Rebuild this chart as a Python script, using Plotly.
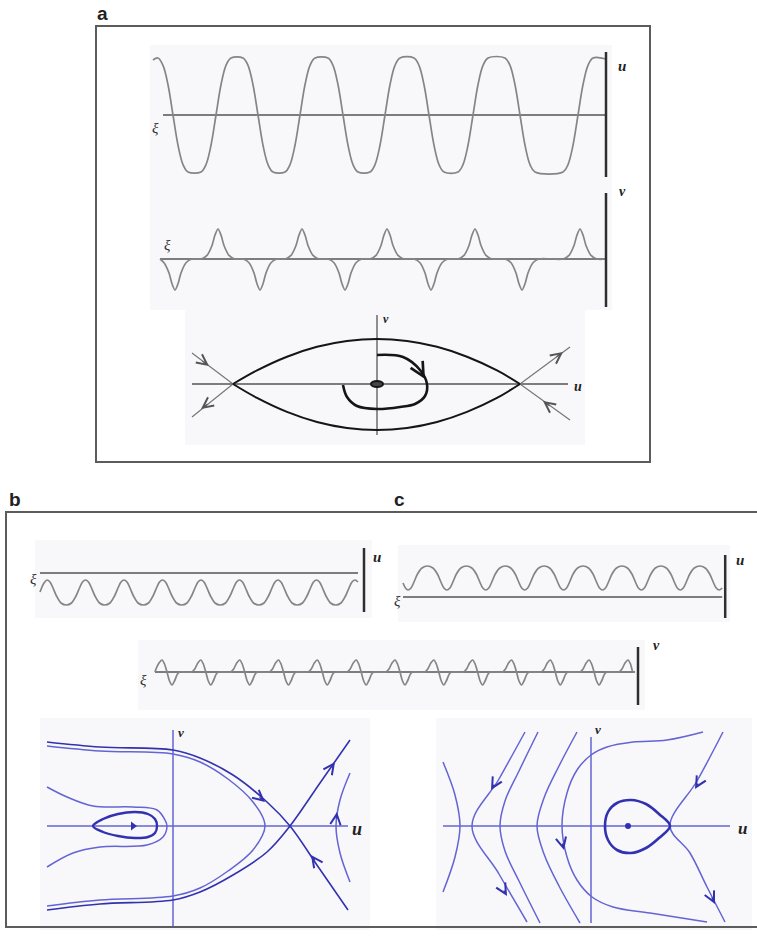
import plotly.graph_objects as go

W, H = 757, 937

# ---------------- panel a ----------------
# u(xi): zero crossings of the flat-topped wave (xi counted from the left end)
a_u_fall = [20, 105, 190, 276, 367]
a_u_rise = [63, 147, 232, 320, 425]
a_u_amp = 57
a_u_start = (0, 55)
a_u_end = (453, 56)
a_u_axis = [10, 453]
a_u_bar = [63, -62]
# shape of one flank (offset along xi, fraction of the amplitude)
a_u_step_dx = [-15, -10, -5, 0, 5, 10, 15]
a_u_step_f = [1.0, 0.87, 0.53, 0.0, -0.53, -0.87, -1.0]

# v(xi): spikes sitting on the flanks of u
a_v_trough = [15, 100, 185, 271, 362]
a_v_peak = [58, 142, 227, 315, 420]
a_v_depth = 31
a_v_height = 30
a_v_end = 446
a_v_bar = [66, -48]
a_v_pulse_dx = [-17, -11, -6, -3, 0, 3, 6, 11, 17]
a_v_pulse_f = [0, 0.12, 0.45, 0.8, 1.0, 0.8, 0.45, 0.12, 0]

# (u, v) plane of panel a
a_axis_u = [-185, 191]
a_axis_v = [69, -51]
a_lens_u = [-144, -120, -90, -60, -30, 0, 30, 60, 90, 120, 143]
a_lens_top = [0, 13.6, 27.3, 37.2, 43, 45, 43, 37.2, 27.3, 13.6, 0]
a_lens_bot = [0, -13.9, -27.9, -38, -44, -46, -44, -38, -27.9, -13.9, 0]
a_spiral_u = [0, 26, 43, 50, 48, 38, 23, 0, -20, -30, -34]
a_spiral_v = [29, 27, 14, 0, -12, -20, -23, -25, -22, -13, -1]
a_sep_left = [(-185, 31), (-144, 0), (-185, -33)]
a_sep_right = [(193, 37), (143, 0), (193, -36)]
a_arrows = [((-168, 18), (-176, 24)), ((-176, -25), (-168, -19)),
            ((186, 32), (178, 26)), ((166, -17), (174, -23))]
a_spiral_arrow = ((48, 5), (44, 12))

# ---------------- panels b and c : waves ----------------
b_u_crest = [7, 45.5, 84, 122.5, 161, 199.5, 238, 276.5, 315]
b_u_cycle_dx = [0, 3, 6, 9.5, 14, 19.25, 24.5, 29, 32.5, 35.5]
b_u_cycle_y = [-7, -9, -15, -23, -30, -32, -30, -23, -15, -9]
b_u_head = [(0, -19), (4, -10)]
b_u_end = 318
b_u_bar = [25, -39]

c_u_trough = [5, 43.9, 82.8, 121.7, 160.6, 199.5, 238.4, 277.3, 316.2]
c_u_cycle_dx = [0, 3, 6, 9.5, 14, 19.45, 24.9, 29.4, 32.9, 35.9]
c_u_cycle_y = [7, 9, 15, 23, 29, 31, 29, 23, 15, 9]
c_u_head = [(0, 14), (2.5, 9)]
c_u_end = 319.2
c_u_bar = [42, -21]

bc_v_peak = [7, 45.8, 84.7, 123.5, 162.3, 201.2, 240, 278.8, 317.6, 356.5, 395.3, 434.1, 473]
bc_v_pulse_dx = [-9, -6, -3, 0, 2.5, 5, 7.5, 10, 12.5, 15.5, 18]
bc_v_pulse_y = [0, 3, 9, 12, 8, 0, -9, -13, -9, -2, 0]
bc_v_end = 480
bc_v_bar = [25, -33]

# ---------------- panel b : (u, v) plane ----------------
b_axis_u = [-126, 175]
b_axis_v = [96, -101]
b_outer_top = [(-126, 84), (-73, 79), (0, 76), (27, 68), (60, 51), (94, 24), (117, 0), (146, -42), (175, -84)]
b_outer_bot = [(-126, -84), (-73, -78), (0, -74), (27, -66), (60, -49), (94, -26), (117, 0), (147, 43), (177, 86)]
b_inner = [(-126, 80), (-73, 75), (0, 72), (27, 64), (55, 47), (80, 24), (92, 0),
           (80, -24), (55, -45), (27, -62), (0, -70), (-73, -74), (-126, -80)]
b_loop = [(-126, 39), (-106, 29), (-80, 20), (-40, 19), (-16, 16), (-8, 6), (-6, 0),
          (-10, -11), (-26, -19), (-73, -21), (-100, -27), (-126, -41)]
b_drop = [(-80, 0), (-70, 7), (-55, 12), (-38, 14), (-25, 12), (-18, 7), (-16, 0),
          (-18, -7), (-25, -11), (-38, -12), (-55, -10), (-70, -6), (-80, 0)]
b_right = [(177, 53), (167, 26), (163, 0), (167, -27), (177, -56)]
b_centre = (-40, 0)
b_arrows = [((92, 24), (85, 30)), ((162, 64), (157, 57)),
            ((138, -29), (143, -36)), ((164, 14), (163, 6))]

# ---------------- panel c : (u, v) plane ----------------
c_axis_u = [-148, 139]
c_axis_v = [89, -97]
c_drop = [(79, 0), (68, 12), (55, 22), (40, 26), (26, 23), (17, 14), (14, 0),
          (17, -14), (26, -24), (40, -27), (55, -22), (68, -12), (79, 0)]
c_sep_right = [(132, 94), (106, 45), (79, 0), (99, -27), (116, -61), (134, -96)]
c_sep_left = [(-66, 94), (-92, 47), (-119, 0), (-92, -48), (-64, -96)]
c_arc1 = [(-148, 64), (-136, 31), (-131, 0), (-136, -31), (-148, -66)]
c_arc2 = [(-53, 94), (-72, 55), (-86, 25), (-91, 0), (-86, -25), (-72, -55), (-51, -97)]
c_arc3 = [(-14, 94), (-32, 60), (-47, 28), (-54, 0), (-47, -28), (-32, -60), (-11, -97)]
c_arc4 = [(112, 94), (76, 86), (42, 84), (16, 79), (0, 71), (-14, 56), (-24, 33), (-29, 0),
          (-24, -31), (-14, -54), (1, -71), (22, -81), (59, -87), (116, -96)]
c_centre = (37, 0)
c_arrows = [((-100, 36), (-96, 43)), ((-84, -70), (-88, -63)), ((-27, -24), (-29, -16)),
            ((104, 37), (108, 44)), ((124, -78), (120, -70))]

# sub-plot boxes in page pixels (left, right, top, bottom) and the pixel of their origin
panels = {
    1: ((150, 612, 45, 185), (153, 115)),   # a: u(xi)
    2: ((150, 612, 185, 310), (160, 259)),  # a: v(xi)
    3: ((185, 585, 305, 445), (377, 384)),  # a: (u, v)
    4: ((35, 372, 540, 618), (40, 573)),    # b: u(xi)
    5: ((398, 730, 545, 622), (403, 597)),  # c: u(xi)
    6: ((138, 645, 640, 710), (155, 672)),  # b, c: v(xi)
    7: ((40, 370, 718, 930), (173, 826)),   # b: (u, v)
    8: ((436, 752, 718, 930), (591, 826)),  # c: (u, v)
}

GREY = '#858585'
AXIS = '#555555'
BAR = '#2e2e2e'
INK = '#151515'
BLUE = '#6464d4'
DEEP = '#3232b0'

fig = go.Figure()


def ax_names(i):
    return ('x', 'y') if i == 1 else (f'x{i}', f'y{i}')


def line(i, pts, color, width, shape='spline', smooth=1.0):
    xa, ya = ax_names(i)
    fig.add_trace(go.Scatter(
        x=[p[0] for p in pts], y=[p[1] for p in pts], xaxis=xa, yaxis=ya,
        mode='lines', line=dict(color=color, width=width, shape=shape, smoothing=smooth),
        hoverinfo='skip'))


# ---- a: u(xi)
pts = [a_u_start]
events = sorted([(c, 1) for c in a_u_fall] + [(c, -1) for c in a_u_rise])
for c, s in events:
    for dx, f in zip(a_u_step_dx, a_u_step_f):
        pts.append((c + dx, s * f * a_u_amp))
pts.append(a_u_end)
line(1, [(a_u_axis[0], 0), (a_u_axis[1], 0)], AXIS, 1.5, 'linear')
line(1, pts, GREY, 1.7, smooth=1.0)
line(1, [(a_u_axis[1], a_u_bar[0]), (a_u_axis[1], a_u_bar[1])], BAR, 2.5, 'linear')

# ---- a: v(xi)
spikes = sorted([(c, -a_v_depth) for c in a_v_trough] + [(c, a_v_height) for c in a_v_peak])
pts = [(0, 0)]
for c, A in spikes:
    for dx, f in zip(a_v_pulse_dx, a_v_pulse_f):
        if 0 < c + dx < a_v_end:
            pts.append((c + dx, f * A))
pts.append((a_v_end, 0))
line(2, [(0, 0), (a_v_end, 0)], AXIS, 1.5, 'linear')
line(2, pts, GREY, 1.7, smooth=0.8)
line(2, [(a_v_end, a_v_bar[0]), (a_v_end, a_v_bar[1])], BAR, 2.5, 'linear')

# ---- a: (u, v) plane
line(3, [(a_axis_u[0], 0), (a_axis_u[1], 0)], AXIS, 1.3, 'linear')
line(3, [(0, a_axis_v[0]), (0, a_axis_v[1])], AXIS, 1.3, 'linear')
line(3, a_sep_left, '#777777', 1.2, 'linear')
line(3, a_sep_right, '#777777', 1.2, 'linear')
line(3, list(zip(a_lens_u, a_lens_top)), INK, 2.0)
line(3, list(zip(a_lens_u, a_lens_bot)), INK, 2.0)
line(3, list(zip(a_spiral_u, a_spiral_v)), INK, 2.6)

# ---- b, c: u(xi) and v(xi)
pts = list(b_u_head)
for c in b_u_crest:
    for dx, y in zip(b_u_cycle_dx, b_u_cycle_y):
        if c + dx <= b_u_end:
            pts.append((c + dx, y))
line(4, [(0, 0), (b_u_end, 0)], AXIS, 1.5, 'linear')
line(4, pts, GREY, 1.7, smooth=0.9)
line(4, [(b_u_end + 6, b_u_bar[0]), (b_u_end + 6, b_u_bar[1])], BAR, 2.5, 'linear')

pts = list(c_u_head)
for c in c_u_trough:
    for dx, y in zip(c_u_cycle_dx, c_u_cycle_y):
        if c + dx <= c_u_end:
            pts.append((c + dx, y))
line(5, [(0, 0), (c_u_end, 0)], AXIS, 1.5, 'linear')
line(5, pts, GREY, 1.7, smooth=0.9)
line(5, [(c_u_end + 3, c_u_bar[0]), (c_u_end + 3, c_u_bar[1])], BAR, 2.5, 'linear')

pts = [(0, 0)]
for c in bc_v_peak:
    for dx, y in zip(bc_v_pulse_dx, bc_v_pulse_y):
        if 0 < c + dx < bc_v_end - 1.5:
            pts.append((c + dx, y))
pts.append((bc_v_end, 0))
line(6, [(0, 0), (bc_v_end, 0)], AXIS, 1.5, 'linear')
line(6, pts, GREY, 1.7, smooth=0.8)
line(6, [(bc_v_end + 3, bc_v_bar[0]), (bc_v_end + 3, bc_v_bar[1])], BAR, 2.5, 'linear')

# ---- b: (u, v) plane
line(7, [(b_axis_u[0], 0), (b_axis_u[1], 0)], BLUE, 1.5, 'linear')
line(7, [(0, b_axis_v[0]), (0, b_axis_v[1])], BLUE, 1.5, 'linear')
line(7, b_outer_top, DEEP, 1.6)
line(7, b_outer_bot, DEEP, 1.6)
line(7, b_inner, BLUE, 1.5)
line(7, b_loop, BLUE, 1.5)
line(7, b_drop, DEEP, 2.4)
line(7, b_right, BLUE, 1.5)
fig.add_trace(go.Scatter(x=[b_centre[0]], y=[b_centre[1]], xaxis='x7', yaxis='y7', mode='markers',
                         marker=dict(symbol='triangle-right', size=8, color=DEEP), hoverinfo='skip'))

# ---- c: (u, v) plane
line(8, [(c_axis_u[0], 0), (c_axis_u[1], 0)], BLUE, 1.5, 'linear')
line(8, [(0, c_axis_v[0]), (0, c_axis_v[1])], BLUE, 1.5, 'linear')
for arc in (c_arc1, c_arc2, c_arc3, c_arc4, c_sep_left, c_sep_right):
    line(8, arc, BLUE, 1.5)
line(8, c_drop, DEEP, 2.6)
fig.add_trace(go.Scatter(x=[c_centre[0]], y=[c_centre[1]], xaxis='x8', yaxis='y8', mode='markers',
                         marker=dict(symbol='circle', size=6, color=DEEP), hoverinfo='skip'))

# ---- layout: axes placed on the page
layout = dict(width=W, height=H, margin=dict(l=0, r=0, t=0, b=0), showlegend=False,
              paper_bgcolor='white', plot_bgcolor='#f8f8fb')
for i, ((x0, x1, y0, y1), (ox, oy)) in panels.items():
    xa, ya = ax_names(i)
    xk = 'xaxis' if i == 1 else f'xaxis{i}'
    yk = 'yaxis' if i == 1 else f'yaxis{i}'
    layout[xk] = dict(domain=[x0 / W, x1 / W], range=[x0 - ox, x1 - ox], visible=False,
                      fixedrange=True, anchor=ya)
    layout[yk] = dict(domain=[1 - y1 / H, 1 - y0 / H], range=[oy - y1, oy - y0], visible=False,
                      fixedrange=True, anchor=xa)
fig.update_layout(**layout)


def P(x, y):
    return x / W, 1 - y / H


# frames
ax0, ay0 = P(96, 26)
ax1, ay1 = P(650, 462)
bx0, by0 = P(6, 512)
bx1, by1 = P(760, 927)
fig.add_shape(type='rect', xref='paper', yref='paper', x0=ax0, y0=ay1, x1=ax1, y1=ay0,
              line=dict(color='#5c5c5c', width=2))
fig.add_shape(type='rect', xref='paper', yref='paper', x0=bx0, y0=by1, x1=bx1, y1=by0,
              line=dict(color='#5c5c5c', width=2))

# centre of the spiral in panel a
fig.add_shape(type='circle', xref='x3', yref='y3', x0=-6, x1=6, y0=-3, y1=3,
              line=dict(color=INK, width=2), fillcolor='#444444')

# flow arrows
arrow_sets = [(3, a_arrows, '#555555', 1.2), (3, [a_spiral_arrow], INK, 1.6),
              (7, b_arrows, DEEP, 1.2), (8, c_arrows, DEEP, 1.2)]
for i, arrows, col, w in arrow_sets:
    xa, ya = ax_names(i)
    for head, tail in arrows:
        fig.add_annotation(x=head[0], y=head[1], ax=tail[0], ay=tail[1], xref=xa, yref=ya,
                           axref=xa, ayref=ya, text='', showarrow=True, arrowhead=5,
                           arrowsize=1.7, arrowwidth=w, arrowcolor=col, standoff=0)

# text labels
labels = [
    ('a', 102, 13, 19, 'sans', '#222'), ('b', 15, 499, 19, 'sans', '#222'), ('c', 399, 499, 19, 'sans', '#222'),
    ('<b><i>u</i></b>', 622, 66, 15, 'serif', '#222'), ('<b><i>v</i></b>', 622, 192, 14, 'serif', '#222'),
    ('<i>ξ</i>', 155, 128, 15, 'serif', '#333'), ('<i>ξ</i>', 167, 245, 15, 'serif', '#333'),
    ('<b><i>v</i></b>', 386, 319, 12, 'serif', '#222'), ('<b><i>u</i></b>', 578, 386, 14, 'serif', '#222'),
    ('<i>ξ</i>', 33, 579, 15, 'serif', '#333'), ('<b><i>u</i></b>', 377, 557, 15, 'serif', '#222'),
    ('<i>ξ</i>', 397, 601, 15, 'serif', '#333'), ('<b><i>u</i></b>', 740, 560, 15, 'serif', '#222'),
    ('<i>ξ</i>', 143, 680, 15, 'serif', '#333'), ('<b><i>v</i></b>', 656, 645, 14, 'serif', '#222'),
    ('<b><i>v</i></b>', 181, 732, 13, 'serif', '#222'), ('<b><i>u</i></b>', 357, 829, 18, 'serif', '#222'),
    ('<b><i>v</i></b>', 598, 729, 13, 'serif', '#222'), ('<b><i>u</i></b>', 742, 828, 17, 'serif', '#222'),
]
for text, x, y, size, fam, col in labels:
    px_, py_ = P(x, y)
    family = 'Liberation Sans' if fam == 'sans' else 'Liberation Serif'
    if fam == 'sans':
        text = f'<b>{text}</b>'
    fig.add_annotation(x=px_, y=py_, xref='paper', yref='paper', text=text, showarrow=False,
                       font=dict(family=family, size=size, color=col), xanchor='center', yanchor='middle')

fig.write_html('out.html')
